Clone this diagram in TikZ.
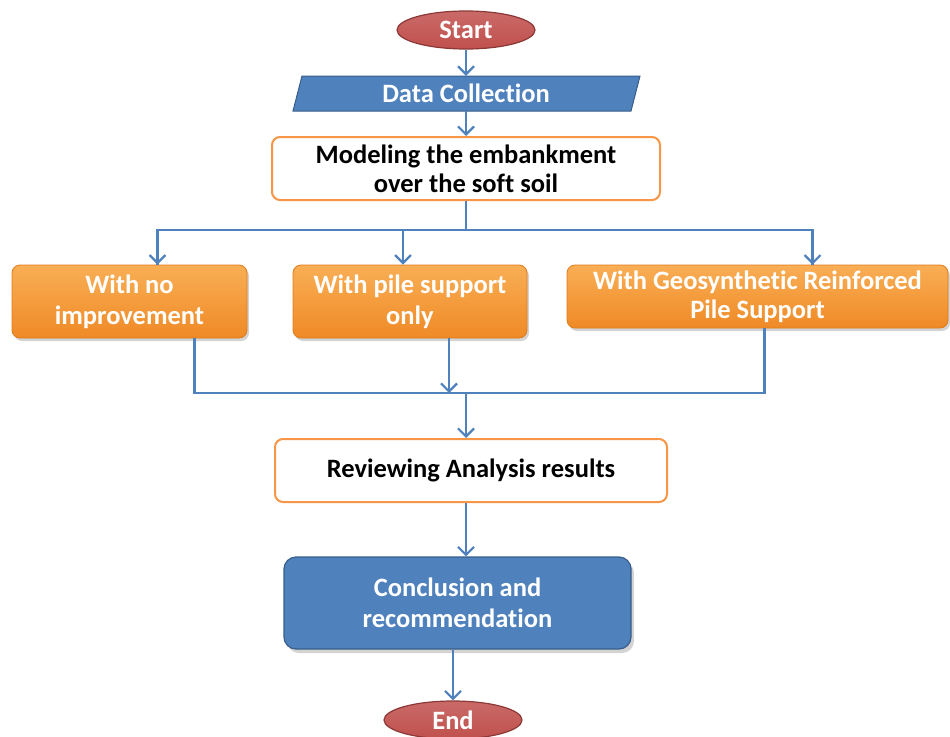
\documentclass[tikz,border=0pt]{standalone}
\usepackage{fontspec}
\setmainfont{Carlito}[Ligatures=NoCommon]
\usetikzlibrary{arrows.meta,shapes.geometric,shadows}
\definecolor{lnblue}{HTML}{4F81BD}
\definecolor{boxblue}{HTML}{4F81BD}
\definecolor{boxblueD}{HTML}{385D8A}
\definecolor{ellred}{HTML}{C0504D}
\definecolor{ellredD}{HTML}{8C3836}
\definecolor{orT}{HTML}{F9AE55}
\definecolor{orB}{HTML}{EF8A26}
\definecolor{orD}{HTML}{E07A1A}
\definecolor{orEdge}{HTML}{F79646}
\tikzset{
  x=1pt,y=-1pt,
  conn/.style={draw=lnblue,line width=2.6pt},
  arr/.style={conn,-{Straight Barb[length=8pt,width=16pt,line width=2.2pt]}},
  txt/.style={font=\bfseries\fontsize{26.5}{31}\selectfont,align=center},
  term/.style={ellipse,draw=ellredD,line width=1.2pt,top color=ellred!85!white,bottom color=ellred,
    minimum width=138pt,minimum height=38pt,inner sep=0pt,text=white,txt},
  whitebox/.style={rectangle,rounded corners=8pt,draw=orEdge,line width=2pt,fill=white,
    inner sep=0pt,txt,text=black},
  orbox/.style={rectangle,rounded corners=8pt,draw=orD,line width=0.8pt,top color=orT,bottom color=orB,
    inner sep=0pt,txt,text=white,drop shadow={opacity=0.35,shadow xshift=2pt,shadow yshift=-3pt}},
  bluebox/.style={rectangle,rounded corners=12pt,draw=boxblueD,line width=1.2pt,fill=boxblue,
    inner sep=0pt,txt,text=white,drop shadow={opacity=0.35,shadow xshift=3pt,shadow yshift=-4pt}},
}
\begin{document}
\begin{tikzpicture}
\useasboundingbox (0,0) rectangle (950,736);
% terminals
\node[term] (start) at (466,30) {Start};
% data collection parallelogram
\fill[boxblue] (302,76) -- (640,76) -- (631,111) -- (293,111) -- cycle;
\draw[boxblueD,line width=1pt] (302,76) -- (640,76) -- (631,111) -- (293,111) -- cycle;
\node[txt,text=white,minimum width=330pt,minimum height=35pt,inner sep=0pt] (dc) at (466,93.5) {Data Collection};
% modeling
\node[whitebox,minimum width=388pt,minimum height=63pt] (mod) at (466,168.5) {Modeling the embankment\\[-2pt]over the soft soil};
% three options
\node[orbox,minimum width=235pt,minimum height=73pt] (b1) at (129.5,301.5) {With no\\improvement};
\node[orbox,minimum width=234pt,minimum height=73pt] (b2) at (410,301.5) {With pile support\\only};
\node[orbox,minimum width=381pt,minimum height=63pt] (b3) at (757.5,296.5) {With Geosynthetic Reinforced\\[-2pt]Pile Support};
% reviewing
\node[whitebox,minimum width=392pt,minimum height=63pt] (rev) at (471,470.5) {Reviewing Analysis results};
% conclusion
\node[bluebox,minimum width=347pt,minimum height=92pt] (con) at (457.5,603) {Conclusion and\\recommendation};
\node[term] (end) at (453,720) {End};
% connectors
\coordinate (split) at (466,230);
\coordinate (merge) at (466,393);
\draw[arr] (start.south) -- (dc.north -| start.south);
\draw[arr] (dc.south -| start.south) -- (mod.north);
\draw[conn] (mod.south) -- (split);
\draw[conn] (split) -| ([xshift=28pt]b1.north);
\draw[conn] (split) -| ([xshift=55pt]b3.north);
\draw[arr] ([xshift=28pt]b1.north) ++(0,-2) -- ([xshift=28pt]b1.north);
\draw[arr] (split -| 403,0) -- (b2.north -| 403,0);
\draw[arr] ([xshift=55pt]b3.north) ++(0,-2) -- ([xshift=55pt]b3.north);
\draw[conn] ([xshift=65pt]b1.south) |- ([xshift=7pt]b3.south |- merge) -- ([xshift=7pt]b3.south);
\draw[arr] (b2.south -| 449,0) -- (merge -| 449,0);
\draw[arr] (merge) -- (rev.north -| merge);
\draw[arr] (rev.south -| merge) -- (con.north -| merge);
\draw[arr] (con.south -| end.north) -- (end.north);
\end{tikzpicture}
\end{document}
